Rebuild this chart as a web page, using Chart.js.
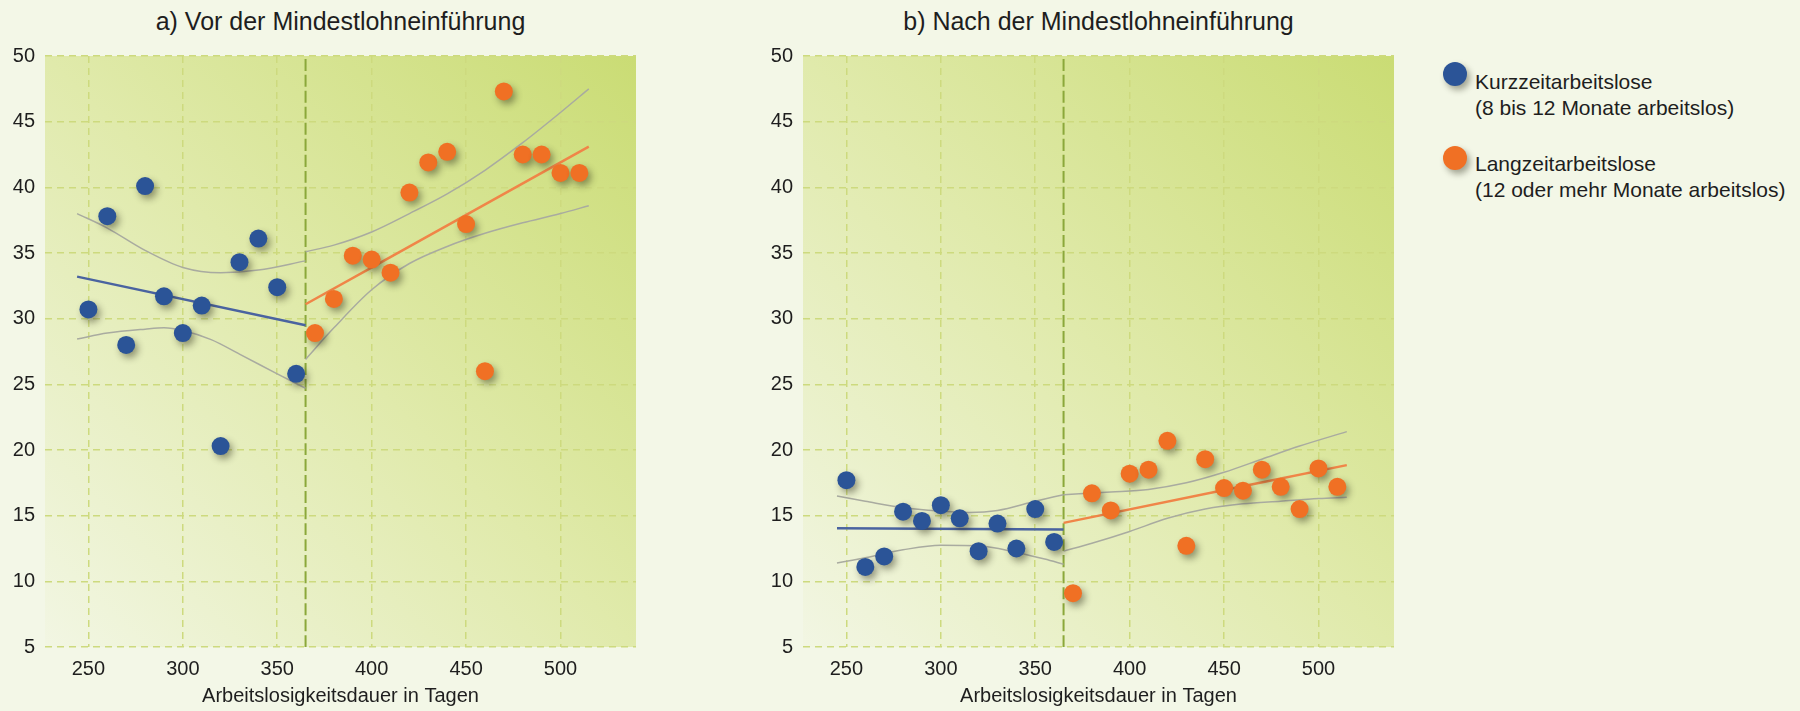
<!DOCTYPE html>
<html><head><meta charset="utf-8">
<script src="https://cdn.jsdelivr.net/npm/chart.js@4.4.1/dist/chart.umd.min.js"></script>
<style>
html,body{margin:0;padding:0;background:#f3f7e7;}
body{width:1800px;height:711px;position:relative;overflow:hidden;font-family:"Liberation Sans",Arial,sans-serif;color:#1e1e1e;}
.box{position:absolute;top:0;width:660px;height:711px;}
.ttl{position:absolute;top:6px;width:591px;line-height:30px;font-size:25px;text-align:center;white-space:nowrap;}
.dot{position:absolute;left:1443px;width:24px;height:24px;border-radius:50%;box-shadow:3px 4px 6px rgba(40,40,20,.4);}
.lg{position:absolute;left:1475px;font-size:21px;line-height:26px;white-space:nowrap;}
</style></head>
<body>
<div class="ttl" style="left:45px">a) Vor der Mindestlohneinführung</div>
<div class="ttl" style="left:803px">b) Nach der Mindestlohneinführung</div>
<div class="box" style="left:0"><canvas id="cVor"></canvas></div>
<div class="box" style="left:758px"><canvas id="cNach"></canvas></div>
<div class="dot" style="top:62px;background:#2b5497"></div>
<div class="lg" style="top:69px">Kurzzeitarbeitslose<br>(8 bis 12 Monate arbeitslos)</div>
<div class="dot" style="top:146px;background:#f07024"></div>
<div class="lg" style="top:151px">Langzeitarbeitslose<br>(12 oder mehr Monate arbeitslos)</div>
<script>
// Tage (x)
var tageKurz=[250,260,270,280,290,300,310,320,330,340,350,360];
var tageLang=[370,380,390,400,410,420,430,440,450,460,470,480,490,500,510];
var grenze=365;

// a) vor der Einfuehrung
var kurzVor=[30.7,37.8,28.0,40.1,31.7,28.9,31.0,20.3,34.3,36.1,32.4,25.8];
var langVor=[28.9,31.5,34.8,34.5,33.5,39.6,41.9,42.7,37.2,26.0,47.3,42.5,42.5,41.1,41.1];
var fitKurzVorX=[244,365], fitKurzVorY=[33.2,29.5];
var fitLangVorX=[365,515], fitLangVorY=[31.1,43.1];
var kiKurzVorOX=[244,260,280,300,320,340,365], kiKurzVorO=[38.0,36.9,35.2,33.9,33.5,33.7,34.4];
var kiKurzVorUX=[244,260,280,290,300,315,330,350,365], kiKurzVorU=[28.45,28.9,29.2,29.3,29.1,28.4,27.3,25.8,24.7];
var kiLangVorX=[365,380,400,420,440,460,480,500,515];
var kiLangVorO=[35.1,35.6,36.6,38.0,39.5,41.3,43.4,45.7,47.5];
var kiLangVorU=[26.9,29.3,32.2,34.2,35.5,36.5,37.3,38.0,38.6];

// b) nach der Einfuehrung
var kurzNach=[17.7,11.1,11.9,15.3,14.6,15.8,14.8,12.3,14.4,12.5,15.5,13.0];
var langNach=[9.1,16.7,15.4,18.2,18.5,20.7,12.7,19.3,17.1,16.9,18.5,17.2,15.5,18.6,17.2];
var fitKurzNachX=[245,365], fitKurzNachY=[14.05,13.95];
var fitLangNachX=[365,515], fitLangNachY=[14.45,18.85];
var kiKurzNachOX=[245,260,280,300,315,330,350,365], kiKurzNachO=[16.5,16.1,15.6,15.35,15.25,15.4,16.1,16.6];
var kiKurzNachUX=[245,260,280,300,320,340,355,365], kiKurzNachU=[11.4,11.8,12.4,12.75,12.7,12.2,11.7,11.3];
var kiLangNachOX=[365,390,410,430,450,470,490,515], kiLangNachO=[16.6,16.8,17.0,17.5,18.3,19.3,20.3,21.4];
var kiLangNachUX=[365,380,400,420,440,460,480,500,515], kiLangNachU=[12.3,12.9,13.8,14.8,15.5,15.9,16.1,16.3,16.4];

var yTicks=[5,10,15,20,25,30,35,40,45,50];
var achsenTitel='Arbeitslosigkeitsdauer in Tagen';

Chart.defaults.font.family='"Liberation Sans", Arial, sans-serif';

function pts(xs,ys){return xs.map(function(x,i){return {x:x,y:ys[i]};});}

var flaeche={id:'flaeche',beforeDraw:function(c){
  var a=c.chartArea,x=c.ctx;
  var g=x.createLinearGradient(a.left,a.bottom,a.right,a.top);
  g.addColorStop(0,'#f2f6e3');g.addColorStop(0.5,'#e0eaab');g.addColorStop(1,'#cadc74');
  x.save();x.fillStyle=g;x.fillRect(a.left,a.top,a.width,a.height);x.restore();
}};
var schatten={id:'schatten',
  beforeDatasetDraw:function(c,a){if(!c.data.datasets[a.index].schatten)return;
    var x=c.ctx;x.save();x.shadowColor='rgba(40,40,20,0.45)';x.shadowBlur=7;x.shadowOffsetX=3;x.shadowOffsetY=4;},
  afterDatasetDraw:function(c,a){if(c.data.datasets[a.index].schatten)c.ctx.restore();}
};

function linie(data,farbe,breite,ord){
  return {data:data,showLine:true,borderColor:farbe,borderWidth:breite,pointRadius:0,fill:false,
    cubicInterpolationMode:'monotone',order:ord};
}
function punkte(xs,ys,farbe){
  return {data:pts(xs,ys),showLine:false,backgroundColor:farbe,borderWidth:0,pointRadius:9,order:0,schatten:true};
}

function mk(id,kurz,lang,fits,kis){
  var ds=[];
  ds.push(Object.assign(linie([{x:grenze,y:5},{x:grenze,y:50}],'#8ba83a',2,9),{borderDash:[12,4]}));
  kis.forEach(function(k){ds.push(linie(k,'#a9aba0',1.5,5));});
  ds.push(linie(fits[0],'#4a63a0',2.5,3));
  ds.push(linie(fits[1],'#f08548',2.5,3));
  ds.push(punkte(tageKurz,kurz,'#2b5497'));
  ds.push(punkte(tageLang,lang,'#f07024'));
  new Chart(document.getElementById(id),{
    type:'scatter',
    data:{datasets:ds},
    plugins:[flaeche,schatten],
    options:{
      responsive:true,maintainAspectRatio:false,animation:false,events:[],
      layout:{padding:{top:56,right:24,bottom:0,left:0}},
      plugins:{legend:{display:false},tooltip:{enabled:false}},
      scales:{
        x:{type:'linear',min:227,max:540,
          afterFit:function(s){s.height=64;},
          ticks:{stepSize:50,includeBounds:false,padding:10,color:'#1e1e1e',font:{size:20},maxRotation:0},
          grid:{color:'#cdda7e',lineWidth:1.5,drawTicks:false},
          border:{display:false,dash:[7,5]},
          title:{display:true,text:achsenTitel,color:'#1e1e1e',font:{size:20},padding:{top:0,bottom:3}}},
        y:{type:'linear',min:5,max:50,
          afterFit:function(s){s.width=45;},
          afterBuildTicks:function(s){s.ticks=yTicks.map(function(v){return {value:v};});},
          ticks:{padding:10,color:'#1e1e1e',font:{size:20}},
          grid:{color:'#cdda7e',lineWidth:1.5,drawTicks:false},
          border:{display:false,dash:[7,5]}}
      }
    }
  });
}

mk('cVor',kurzVor,langVor,
  [pts(fitKurzVorX,fitKurzVorY),pts(fitLangVorX,fitLangVorY)],
  [pts(kiKurzVorOX,kiKurzVorO),pts(kiKurzVorUX,kiKurzVorU),pts(kiLangVorX,kiLangVorO),pts(kiLangVorX,kiLangVorU)]);
mk('cNach',kurzNach,langNach,
  [pts(fitKurzNachX,fitKurzNachY),pts(fitLangNachX,fitLangNachY)],
  [pts(kiKurzNachOX,kiKurzNachO),pts(kiKurzNachUX,kiKurzNachU),pts(kiLangNachOX,kiLangNachO),pts(kiLangNachUX,kiLangNachU)]);
</script>
</body></html>
